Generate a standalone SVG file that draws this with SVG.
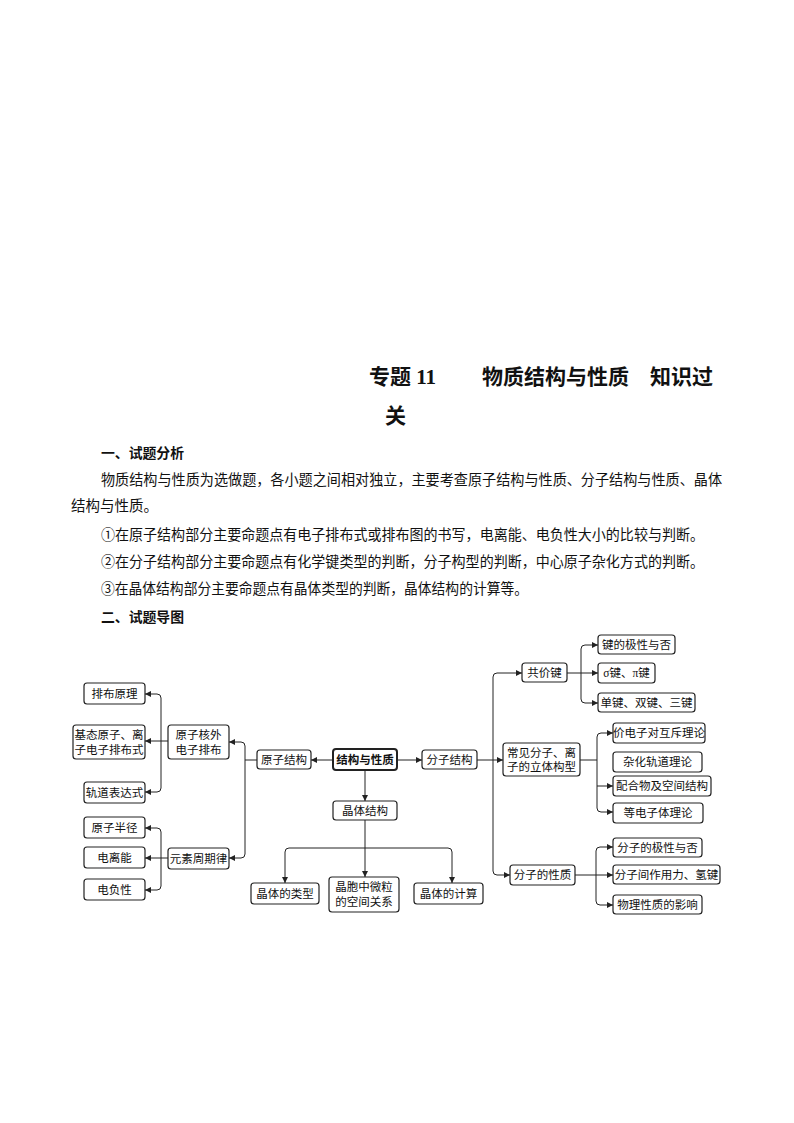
<svg xmlns="http://www.w3.org/2000/svg" width="794" height="1123" viewBox="0 0 794 1123">
<style>
.t{font-family:"Liberation Serif","Noto Sans CJK SC",serif;fill:#111}
.title{font-size:21px;font-weight:bold}
.h{font-size:14px;font-weight:bold}
.p{font-size:14.5px}
.n rect{fill:#fff;stroke:#222;stroke-width:1.2}
.n text{font-family:"Liberation Serif","Noto Sans CJK SC",serif;font-size:11.5px;fill:#111;text-anchor:middle}
.c path{fill:none;stroke:#222;stroke-width:1}
.a{marker-end:url(#ar)}
</style>
<defs>
<marker id="ar" markerUnits="userSpaceOnUse" markerWidth="7" markerHeight="6" refX="6" refY="3" orient="auto">
<path d="M0,0 L6,3 L0,6 Z" fill="#222"/>
</marker>
</defs>
<rect width="794" height="1123" fill="#fff"/>
<text class="t title" x="369" y="384">专题 11</text>
<text class="t title" x="482" y="384" textLength="231" lengthAdjust="spacingAndGlyphs">物质结构与性质　知识过</text>
<text class="t title" x="385" y="423">关</text>
<text class="t h" x="101" y="458" textLength="83" lengthAdjust="spacingAndGlyphs">一、试题分析</text>
<text class="t p" x="101" y="485" textLength="621" lengthAdjust="spacingAndGlyphs">物质结构与性质为选做题，各小题之间相对独立，主要考查原子结构与性质、分子结构与性质、晶体</text>
<text class="t p" x="71" y="511">结构与性质。</text>
<text class="t p" x="101" y="540" textLength="603" lengthAdjust="spacingAndGlyphs">①在原子结构部分主要命题点有电子排布式或排布图的书写，电离能、电负性大小的比较与判断。</text>
<text class="t p" x="101" y="567" textLength="603" lengthAdjust="spacingAndGlyphs">②在分子结构部分主要命题点有化学键类型的判断，分子构型的判断，中心原子杂化方式的判断。</text>
<text class="t p" x="101" y="594" textLength="427" lengthAdjust="spacingAndGlyphs">③在晶体结构部分主要命题点有晶体类型的判断，晶体结构的计算等。</text>
<text class="t h" x="101" y="622" textLength="83" lengthAdjust="spacingAndGlyphs">二、试题导图</text>

<g class="c" id="connectors">
<path class="a" d="M333,760 H311"/>
<path class="a" d="M397,760 H422"/>
<path class="a" d="M365,770 V801"/>
<path d="M257,760 H245"/>
<path class="a" d="M245,760 V746 Q245,742 241,742 H229"/>
<path class="a" d="M245,760 V854 Q245,858 241,858 H229"/>
<path class="a" d="M168,741 H145"/>
<path class="a" d="M161,741 V698 Q161,694 157,694 H145"/>
<path class="a" d="M161,741 V788 Q161,792 157,792 H145"/>
<path class="a" d="M168,858 H145"/>
<path class="a" d="M161,858 V832 Q161,828 157,828 H145"/>
<path class="a" d="M161,858 V886 Q161,890 157,890 H145"/>
<path class="a" d="M365,820 V877"/>
<path class="a" d="M365,848 H289 Q285,848 285,852 V883"/>
<path class="a" d="M365,848 H448 Q452,848 452,852 V883"/>
<path class="a" d="M477,760 H503"/>
<path class="a" d="M493,760 V677 Q493,673 497,673 H522"/>
<path class="a" d="M493,760 V871 Q493,875 497,875 H510"/>
<path class="a" d="M567,673 H598"/>
<path class="a" d="M581,673 V649 Q581,645 585,645 H598"/>
<path class="a" d="M581,673 V699 Q581,703 585,703 H598"/>
<path d="M580,760 H597"/>
<path class="a" d="M597,760 V737 Q597,733 601,733 H613"/>
<path class="a" d="M597,760 V808 Q597,812 601,812 H613"/>
<path class="a" d="M597,786 H613"/>
<path class="a" d="M575,875 H613"/>
<path class="a" d="M596,875 V851 Q596,847 600,847 H613"/>
<path class="a" d="M596,875 V901 Q596,905 600,905 H613"/>
</g>

<g class="n" id="n-pbyl"><rect x="84" y="683" width="61" height="21" rx="3"/><text x="114.5" y="697.5">排布原理</text></g>
<g class="n" id="n-jtyz"><rect x="73" y="725" width="72" height="34" rx="3"/><text x="109" y="739">基态原子、离</text><text x="109" y="754">子电子排布式</text></g>
<g class="n" id="n-gdbds"><rect x="84" y="782" width="61" height="21" rx="3"/><text x="114.5" y="796.5">轨道表达式</text></g>
<g class="n" id="n-yzhw"><rect x="168" y="725" width="61" height="34" rx="3"/><text x="198.5" y="739">原子核外</text><text x="198.5" y="754">电子排布</text></g>
<g class="n" id="n-yzbj"><rect x="84" y="817" width="61" height="21" rx="3"/><text x="114.5" y="831.5">原子半径</text></g>
<g class="n" id="n-dln"><rect x="84" y="847" width="61" height="21" rx="3"/><text x="114.5" y="861.5">电离能</text></g>
<g class="n" id="n-dfx"><rect x="84" y="879" width="61" height="21" rx="3"/><text x="114.5" y="893.5">电负性</text></g>
<g class="n" id="n-ysz"><rect x="168" y="848" width="61" height="21" rx="3"/><text x="198.5" y="862.5">元素周期律</text></g>
<g class="n" id="n-yzjg"><rect x="257" y="750" width="54" height="19" rx="3"/><text x="284" y="763.5">原子结构</text></g>
<g class="n" id="n-root"><rect x="333" y="749" width="64" height="21" rx="3" style="stroke-width:2"/><text x="365" y="763.5" style="font-weight:bold">结构与性质</text></g>
<g class="n" id="n-fzjg"><rect x="422" y="750" width="55" height="19" rx="3"/><text x="449.5" y="763.5">分子结构</text></g>
<g class="n" id="n-jtjg"><rect x="333" y="801" width="64" height="19" rx="3"/><text x="365" y="814.5">晶体结构</text></g>
<g class="n" id="n-jtlx"><rect x="251" y="883" width="68" height="21" rx="3"/><text x="285" y="897.5">晶体的类型</text></g>
<g class="n" id="n-jbwl"><rect x="329" y="877" width="70" height="35" rx="3"/><text x="364" y="891">晶胞中微粒</text><text x="364" y="906">的空间关系</text></g>
<g class="n" id="n-jtjs"><rect x="414" y="883" width="69" height="21" rx="3"/><text x="448.5" y="897.5">晶体的计算</text></g>
<g class="n" id="n-gjj"><rect x="522" y="663" width="45" height="19" rx="3"/><text x="544.5" y="676.5">共价键</text></g>
<g class="n" id="n-jjx"><rect x="598" y="635" width="77" height="19" rx="3"/><text x="636.5" y="648.5">键的极性与否</text></g>
<g class="n" id="n-sp"><rect x="598" y="663" width="57" height="20" rx="3"/><text x="626.5" y="677">σ键、π键</text></g>
<g class="n" id="n-djsj"><rect x="598" y="693" width="97" height="19" rx="3"/><text x="646.5" y="706.5">单键、双键、三键</text></g>
<g class="n" id="n-ljgx"><rect x="503" y="743" width="77" height="33" rx="3"/><text x="541.5" y="757">常见分子、离</text><text x="541.5" y="771">子的立体构型</text></g>
<g class="n" id="n-vsepr"><rect x="613" y="723" width="92" height="20" rx="3"/><text x="659" y="737">价电子对互斥理论</text></g>
<g class="n" id="n-zhgd"><rect x="613" y="752" width="89" height="20" rx="3"/><text x="657.5" y="766">杂化轨道理论</text></g>
<g class="n" id="n-phw"><rect x="613" y="776" width="98" height="20" rx="3"/><text x="662" y="790">配合物及空间结构</text></g>
<g class="n" id="n-ddz"><rect x="613" y="803" width="90" height="20" rx="3"/><text x="658" y="817">等电子体理论</text></g>
<g class="n" id="n-fzxz"><rect x="510" y="865" width="65" height="20" rx="3"/><text x="542.5" y="879">分子的性质</text></g>
<g class="n" id="n-fzjx"><rect x="613" y="838" width="89" height="19" rx="3"/><text x="657.5" y="851.5">分子的极性与否</text></g>
<g class="n" id="n-fzj"><rect x="613" y="865" width="107" height="19" rx="3"/><text x="666.5" y="878.5">分子间作用力、氢键</text></g>
<g class="n" id="n-wlxz"><rect x="613" y="895" width="89" height="19" rx="3"/><text x="657.5" y="908.5">物理性质的影响</text></g>
</svg>
